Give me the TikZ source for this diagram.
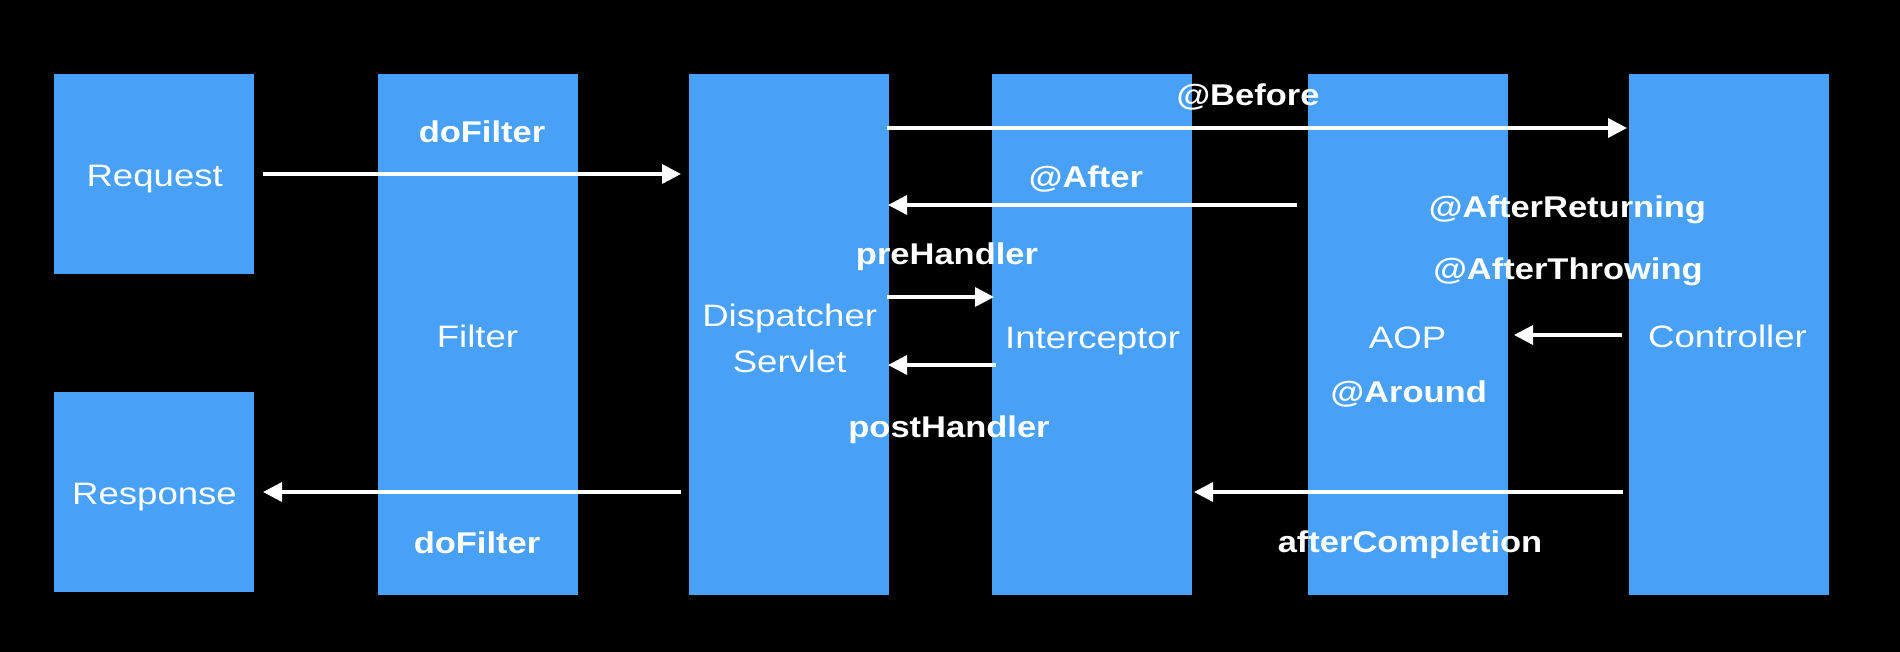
\documentclass[tikz,border=0pt]{standalone}
\usepackage{fontspec}
\usetikzlibrary{arrows.meta}
\newfontfamily\lab[FakeStretch=1.18]{Liberation Sans}
\newfontfamily\blab[FakeStretch=1.15]{Liberation Sans}
\definecolor{boxblue}{RGB}{72,161,247}
\tikzset{
  box/.style={fill=boxblue, draw=none, inner sep=0pt, outer sep=0pt, minimum width=200pt},
  smallbox/.style={box, minimum height=200pt},
  tallbox/.style={box, minimum height=521pt},
  reglab/.style={text=white, inner sep=0pt, anchor=base, font=\lab\fontsize{31pt}{46pt}\selectfont, align=center},
  boldlab/.style={text=white, inner sep=0pt, anchor=base, font=\blab\bfseries\fontsize{30pt}{36pt}\selectfont},
  arr/.style={draw=white, line width=3.5pt, -{Triangle[length=19pt,width=19pt]}}
}
\begin{document}
\begin{tikzpicture}[x=1pt, y=-1pt]
\fill[black] (0,0) rectangle (1900,652);
\useasboundingbox (0,0) rectangle (1900,652);
% boxes
\node[smallbox] (req) at (154,174) {};
\node[smallbox] (resp) at (154,492) {};
\node[tallbox] (filt) at (478,334.5) {};
\node[tallbox] (disp) at (789,334.5) {};
\node[tallbox] (intc) at (1092,334.5) {};
\node[tallbox] (aop) at (1408,334.5) {};
\node[tallbox] (ctrl) at (1729,334.5) {};
% main labels
\node[reglab] (reqt) at (154.7,186.7) {Request};
\node[reglab] (respt) at (154.5,504.7) {Response};
\node[reglab] (filtt) at (477.5,347.5) {Filter};
\node[reglab] (dispt) at (789.7,372.7) {Dispatcher\\Servlet};
\node[reglab] (intct) at (1092.5,348) {Interceptor};
\node[reglab] (aopt) at (1407.5,348) {AOP};
\node[reglab] (ctrlt) at (1727.5,347.7) {Controller};
% annotation labels
\node[boldlab] (df1) at (482,142.7) {doFilter};
\node[boldlab] (df2) at (477,553) {doFilter};
\node[boldlab] (bef) at (1248,106) {@Before};
\node[boldlab] (aft) at (1086,188) {@After};
\node[boldlab] (pre) at (947,265) {preHandler};
\node[boldlab] (post) at (949,437.5) {postHandler};
\node[boldlab] (aret) at (1567.5,218) {@AfterReturning};
\node[boldlab] (athr) at (1568,279.3) {@AfterThrowing};
\node[boldlab] (arnd) at (1408.7,402.7) {@Around};
\node[boldlab] (acomp) at (1410,552.7) {afterCompletion};
% connectors
\draw[arr] ([xshift=9pt]req.east) -- ([xshift=-8pt]disp.west |- req.east);
\draw[arr] ([xshift=-8pt]disp.west |- resp.east) -- ([xshift=9pt]resp.east);
\draw[arr] ([xshift=-2pt]disp.east |- 0,128) -- ([xshift=-2pt]ctrl.west |- 0,128);
\draw[arr] ([xshift=-11pt]aop.west |- 0,205) -- ([xshift=-1pt]disp.east |- 0,205);
\draw[arr] ([xshift=-2pt]disp.east |- 0,297) -- ([xshift=2pt]intc.west |- 0,297);
\draw[arr] ([xshift=4pt]intc.west |- 0,365) -- ([xshift=-1pt]disp.east |- 0,365);
\draw[arr] ([xshift=-7pt]ctrl.west |- 0,335) -- ([xshift=6pt]aop.east |- 0,335);
\draw[arr] ([xshift=-6pt]ctrl.west |- 0,492) -- ([xshift=2pt]intc.east |- 0,492);
\end{tikzpicture}
\end{document}
